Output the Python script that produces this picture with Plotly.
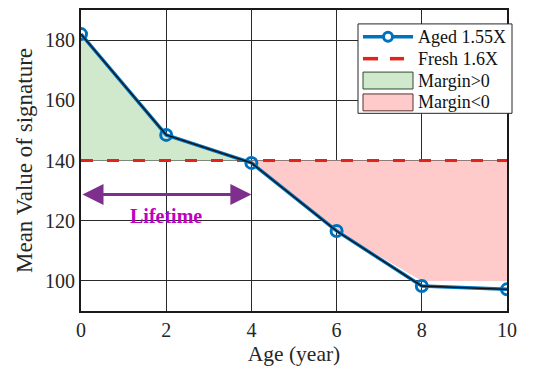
import numpy as np
import plotly.graph_objects as go

age = [0, 2, 4, 6, 8, 10]
aged = [182.0, 148.5, 139.2, 116.6, 98.3, 97.2]
fresh_level = 140.0
floor_level = 100.0
x_ticks = [0, 2, 4, 6, 8, 10]
y_ticks = [100, 120, 140, 160, 180]
legend_labels = ["Aged 1.55X", "Fresh 1.6X", "Margin>0", "Margin<0"]

FONT = "Liberation Serif, Times New Roman, serif"
W, H = 541, 372
ML, MR, MT, MB = 81, 34, 8, 61
PW, PH = W - ML - MR, H - MT - MB

GREEN = "#d0e9cc"
RED = "#ffcaca"
BLUE = "#0072BD"
FRESH_RED = "#e2231a"


def px(x):
    return (x - ML) / PW


def py(y):
    return (H - MB - y) / PH


fig = go.Figure()

# Margin>0 region (age 0..4)
gx = age[:3]
gy = aged[:3]
fig.add_trace(go.Scatter(
    x=gx + gx[::-1], y=gy + [fresh_level] * len(gx),
    fill="toself", fillcolor=GREEN, mode="lines",
    line=dict(color="rgba(0,0,0,0)", width=0),
    showlegend=False, hoverinfo="skip"))

# Margin<0 region (age 4..10), clipped at floor
rx = age[2:]
ry = list(np.maximum(np.array(aged[2:]), floor_level))
fig.add_trace(go.Scatter(
    x=rx + rx[::-1], y=ry + [fresh_level] * len(rx),
    fill="toself", fillcolor=RED, mode="lines",
    line=dict(color="rgba(0,0,0,0)", width=0),
    showlegend=False, hoverinfo="skip"))

# Fresh line
fig.add_trace(go.Scatter(
    x=[age[0], age[-1]], y=[fresh_level, fresh_level], mode="lines",
    line=dict(color=FRESH_RED, width=3, dash="12px,14px"),
    showlegend=False))

# Aged line
fig.add_trace(go.Scatter(
    x=age, y=aged, mode="lines+markers",
    line=dict(color=BLUE, width=3.5),
    marker=dict(symbol="circle-open", size=11, color=BLUE,
                line=dict(width=3, color=BLUE)),
    showlegend=False))
fig.add_trace(go.Scatter(
    x=age, y=aged, mode="lines",
    line=dict(color="#111111", width=1.3),
    showlegend=False, hoverinfo="skip"))

# Lifetime arrow
fig.add_annotation(
    x=4, y=128.7, ax=0, ay=128.7, xref="x", yref="y", axref="x", ayref="y",
    text="", showarrow=True, arrowhead=2, arrowside="end+start",
    arrowsize=1.4, arrowwidth=3, arrowcolor="#7E2F8E",
    startarrowhead=2, startarrowsize=1.4)
fig.add_annotation(
    x=2, y=121.6, xref="x", yref="y", text="<b>Lifetime</b>",
    showarrow=False, font=dict(family=FONT, size=20, color="#C000C0"))

# Manual legend
shapes = []
shapes.append(dict(type="rect", xref="paper", yref="paper",
                   x0=px(358), x1=px(512), y0=py(112), y1=py(22),
                   fillcolor="white", line=dict(color="#262626", width=1), layer="above"))
rows = [35, 57, 79, 101]
sx0, sx1 = 363, 413
# row 1: aged line + marker
shapes.append(dict(type="line", xref="paper", yref="paper",
                   x0=px(sx0), x1=px(sx1), y0=py(rows[0]), y1=py(rows[0]),
                   line=dict(color=BLUE, width=3.5), layer="above"))
shapes.append(dict(type="circle", xref="paper", yref="paper",
                   x0=px(383.5), x1=px(392.5), y0=py(rows[0] + 4.5), y1=py(rows[0] - 4.5),
                   fillcolor="white", line=dict(color=BLUE, width=3), layer="above"))
# row 2: dashed red
for a, b in [(363, 378), (390, 404)]:
    shapes.append(dict(type="line", xref="paper", yref="paper",
                       x0=px(a), x1=px(b), y0=py(rows[1]), y1=py(rows[1]),
                       line=dict(color=FRESH_RED, width=3.5), layer="above"))
# rows 3,4: patches
for r, c, edge in [(rows[2], GREEN, "#2f4a2f"), (rows[3], RED, "#5a2f2f")]:
    shapes.append(dict(type="rect", xref="paper", yref="paper",
                       x0=px(sx0), x1=px(sx1), y0=py(r + 8.5), y1=py(r - 8.5),
                       fillcolor=c, line=dict(color=edge, width=1), layer="above"))
for r, lab in zip(rows, legend_labels):
    fig.add_annotation(x=px(416), y=py(r), xref="paper", yref="paper",
                       xanchor="left", yanchor="middle", text=lab, showarrow=False,
                       font=dict(family=FONT, size=18, color="#111111"))

axis_common = dict(
    showgrid=True, gridcolor="#2a2a2a", gridwidth=1.4,
    showline=True, linecolor="#1a1a1a", linewidth=1.8, mirror=True,
    zeroline=False, ticks="", tickfont=dict(family=FONT, size=20, color="#262626"),
)

fig.update_layout(
    width=W, height=H,
    margin=dict(l=ML, r=MR, t=MT, b=MB),
    paper_bgcolor="white", plot_bgcolor="white",
    font=dict(family=FONT, color="#262626"),
    shapes=shapes,
    xaxis=dict(range=[0, 10], tickvals=x_ticks, **axis_common,
               title=dict(text="Age (year)", font=dict(family=FONT, size=21.5, color="#262626"),
                          standoff=6)),
    yaxis=dict(range=[90, 190], tickvals=y_ticks, **axis_common,
               title=dict(text="Mean Value of signature",
                          font=dict(family=FONT, size=23, color="#262626"), standoff=6)),
    showlegend=False,
)

fig.write_html("out.html")
